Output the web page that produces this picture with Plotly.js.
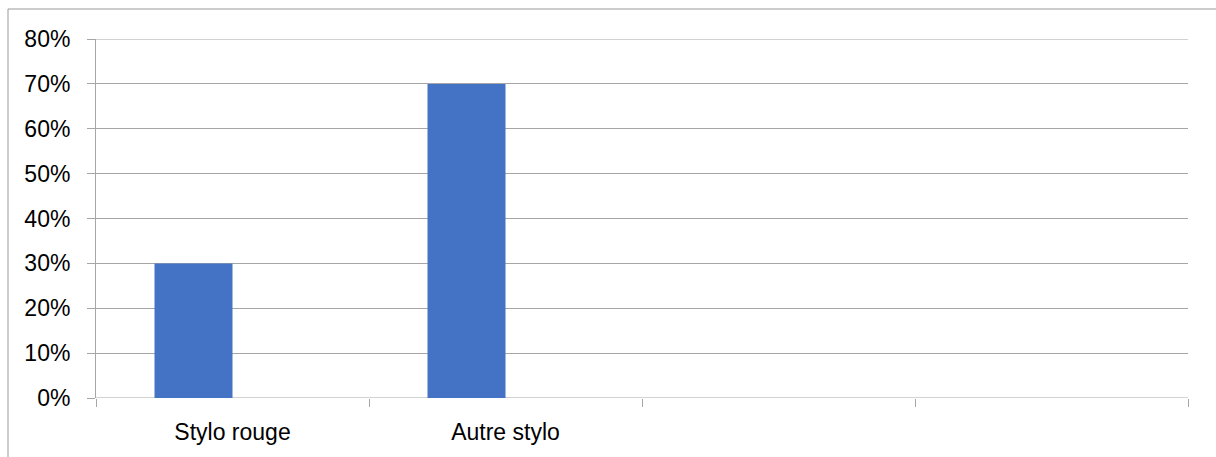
<!DOCTYPE html>
<html>
<head>
<meta charset="utf-8">
<script src="https://cdn.plot.ly/plotly-3.0.1.min.js"></script>
<style>
html,body{margin:0;padding:0;background:#fff;}
#chart{width:1216px;height:457px;}
</style>
</head>
<body>
<div id="chart"></div>
<script>
const categories = ["Stylo rouge", "Autre stylo", " ", "  "];
const series1 = [0.30, 0.70, null, null];
const series2 = [null, null, null, null];
const yTickVals = [0, 0.1, 0.2, 0.3, 0.4, 0.5, 0.6, 0.7, 0.8];
const yTickText = ["0%", "10%", "20%", "30%", "40%", "50%", "60%", "70%", "80%"];

const gridCol = "#a6a6a6";
const traces = [
  {type: "bar", x: categories, y: series1, marker: {color: "#4472C4"}, hoverinfo: "x+y"},
  {type: "bar", x: categories, y: series2, marker: {color: "#ED7D31"}, hoverinfo: "skip"}
];

const L = 96, R = 1188, T = 39, B = 398, W = 1216, H = 457;
const px = v => (v - L) / (R - L);
const py = v => (B - v) / (B - T);

const layout = {
  width: W, height: H,
  margin: {l: L, r: W - R, t: T, b: H - B, pad: 0},
  paper_bgcolor: "#ffffff",
  plot_bgcolor: "#ffffff",
  showlegend: false,
  barmode: "group",
  bargap: 117 / 273,
  bargroupgap: 0,
  font: {family: "Liberation Sans, Arial, sans-serif", size: 23, color: "#000000"},
  xaxis: {
    type: "category",
    tickson: "boundaries",
    ticks: "outside", ticklen: 8, tickcolor: gridCol, tickwidth: 1,
    showline: false,
    showgrid: false,
    zeroline: false,
    ticklabelstandoff: 18,
    fixedrange: true
  },
  yaxis: {
    range: [0, 0.8],
    tickvals: yTickVals, ticktext: yTickText,
    ticks: "outside", ticklen: 8, tickcolor: gridCol, tickwidth: 1,
    showline: true, linecolor: gridCol, linewidth: 1,
    showgrid: true, gridcolor: gridCol, gridwidth: 1,
    zeroline: false,
    ticklabelstandoff: 12,
    fixedrange: true
  },
  shapes: [
    {type: "line", xref: "paper", yref: "y", x0: 0, x1: 1, y0: yTickVals[yTickVals.length - 1], y1: yTickVals[yTickVals.length - 1], line: {color: gridCol, width: 1}, layer: "below"},
    {type: "line", xref: "paper", yref: "y", x0: 0, x1: 1, y0: yTickVals[0], y1: yTickVals[0], line: {color: gridCol, width: 1}, layer: "below"},
    {type: "line", xref: "paper", yref: "paper", x0: px(8), x1: px(1230), y0: py(9), y1: py(9), line: {color: "#999999", width: 1}},
    {type: "line", xref: "paper", yref: "paper", x0: px(8), x1: px(8), y0: py(9), y1: py(470), line: {color: "#999999", width: 1}}
  ]
};

Plotly.newPlot("chart", traces, layout, {displayModeBar: false, staticPlot: true});
</script>
</body>
</html>
